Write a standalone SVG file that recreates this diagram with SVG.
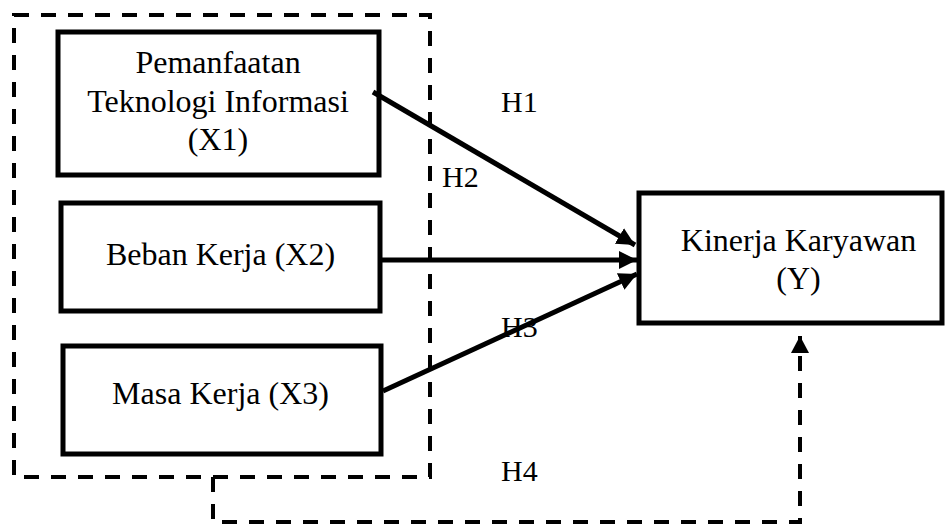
<svg xmlns="http://www.w3.org/2000/svg" width="947" height="529" viewBox="0 0 947 529">
<style>
.box{fill:#fff;stroke:#000;stroke-width:5}
.grp{fill:none;stroke:#000;stroke-width:4;stroke-dasharray:15 12}
.t{font-family:"Liberation Serif","Times New Roman",serif;font-size:32px;fill:#000;text-anchor:middle}
.h{font-family:"Liberation Serif","Times New Roman",serif;font-size:30px;fill:#000}
.arr{fill:none;stroke:#000;stroke-width:5}
.dash{fill:none;stroke:#000;stroke-width:4;stroke-dasharray:15 12}
</style>
<defs>
<marker id="ah" markerUnits="userSpaceOnUse" markerWidth="20" markerHeight="18" refX="18" refY="9" orient="auto">
<path d="M0,0 L18,9 L0,18 Z" fill="#000"/>
</marker>
<marker id="ah2" markerUnits="userSpaceOnUse" markerWidth="20" markerHeight="18" refX="17" refY="9" orient="auto">
<path d="M0,0 L17,9 L0,18 Z" fill="#000"/>
</marker>
</defs>
<rect id="group" class="grp" x="14" y="15" width="416" height="462"/>
<g id="x1">
<rect class="box" x="58" y="32" width="321" height="143"/>
<text class="t" x="218" y="73">Pemanfaatan</text>
<text class="t" x="218" y="112">Teknologi Informasi</text>
<text class="t" x="218" y="150">(X1)</text>
</g>
<g id="x2">
<rect class="box" x="61" y="203" width="319" height="108"/>
<text class="t" x="220.5" y="265">Beban Kerja (X2)</text>
</g>
<g id="x3">
<rect class="box" x="63" y="346" width="318" height="108"/>
<text class="t" x="220.5" y="404">Masa Kerja (X3)</text>
</g>
<g id="y">
<rect class="box" x="639" y="193" width="303" height="130"/>
<text class="t" x="798.5" y="251">Kinerja Karyawan</text>
<text class="t" x="798.5" y="289">(Y)</text>
</g>
<g id="connectors">
<line class="arr" x1="373" y1="92" x2="635" y2="245" marker-end="url(#ah)"/>
<line class="arr" x1="382" y1="260" x2="637" y2="260" marker-end="url(#ah)"/>
<line class="arr" x1="383" y1="391" x2="637" y2="274" marker-end="url(#ah)"/>
<polyline class="dash" points="213,477 213,522 800,522 800,336" marker-end="url(#ah2)"/>
</g>
<g id="labels">
<text class="h" x="501" y="112">H1</text>
<text class="h" x="442" y="187">H2</text>
<text class="h" x="501" y="337">H3</text>
<text class="h" x="501" y="481">H4</text>
</g>
</svg>
